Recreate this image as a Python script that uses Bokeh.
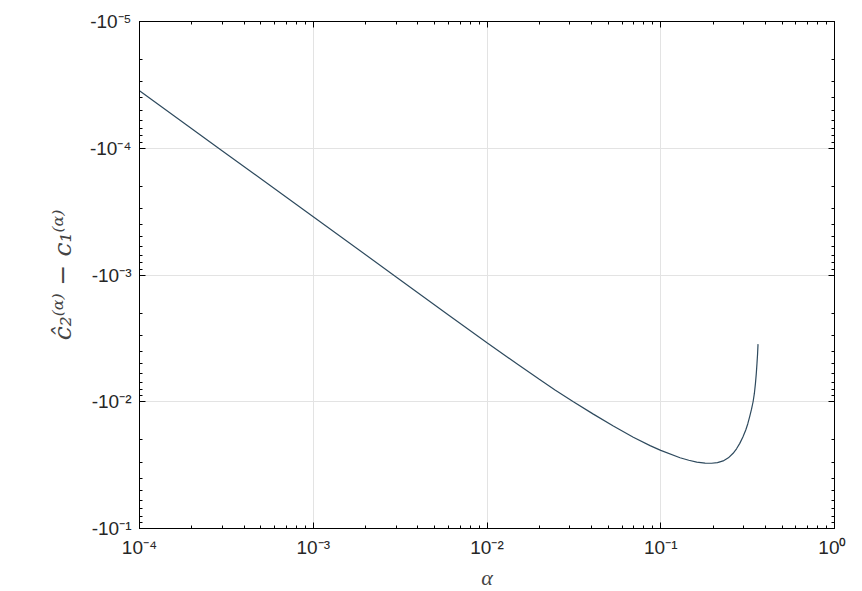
import numpy as np
from bokeh.plotting import figure
from bokeh.models import Range1d, LogAxis, FixedTicker
from bokeh.embed import file_html
from bokeh.resources import INLINE

# data: alpha and magnitude of (c2_hat - c1) (the values are negative)
alpha = [1e-4, 3e-4, 1e-3, 3e-3, 6e-3, 1e-2, 0.015, 0.02, 0.02463, 0.03141, 0.04093,
         0.05333, 0.0695, 0.0868, 0.1, 0.1291, 0.145, 0.1612, 0.18, 0.196, 0.212,
         0.2286, 0.245, 0.2609, 0.273, 0.285, 0.297, 0.3085, 0.317, 0.325, 0.333,
         0.340, 0.3458, 0.3508, 0.3547, 0.358, 0.3608, 0.363]
neg_diff = [3.52e-5, 1.05e-4, 3.47e-4, 1.035e-3, 2.07e-3, 3.43e-3, 5.06e-3, 6.65e-3, 8.09e-3, 0.0100, 0.01252,
            0.01555, 0.01907, 0.02218, 0.02421, 0.02765, 0.02896, 0.0299, 0.0305, 0.03057, 0.0302,
            0.0293, 0.0277, 0.0255, 0.0235, 0.0213, 0.0190, 0.0167, 0.0149, 0.0131, 0.01145,
            0.0100, 0.0086, 0.00716, 0.0060, 0.00498, 0.0042, 0.00351]

x_ticks = [1e-4, 1e-3, 1e-2, 1e-1, 1e0]
x_tick_labels = ["10\u207b\u2074", "10\u207b\u00b3", "10\u207b\u00b2", "10\u207b\u00b9", "10\u2070"]
y_ticks = [1e-5, 1e-4, 1e-3, 1e-2, 1e-1]
y_tick_labels = ["-10\u207b\u2075", "-10\u207b\u2074", "-10\u207b\u00b3", "-10\u207b\u00b2", "-10\u207b\u00b9"]


def minors(decades):
    out = []
    for d in decades[:-1]:
        out += [k * d for k in range(2, 10)]
    return out


p = figure(frame_width=695, frame_height=507, output_backend="svg", toolbar_location=None,
           x_axis_type="log", y_axis_type="log",
           x_range=Range1d(1e-4, 1.0), y_range=Range1d(1e-1, 1e-5),
           min_border_left=139, min_border_top=21, min_border_right=12, min_border_bottom=56,
           background_fill_color="white", border_fill_color="white")
p.outline_line_color = "black"
p.outline_line_width = 1

p.line(alpha, neg_diff, line_color="#2e4a5e", line_width=1.2)


def style(ax, ticker, labels, ticks):
    ax.ticker = ticker
    ax.axis_line_color = "black"
    ax.major_tick_line_color = "black"
    ax.minor_tick_line_color = "black"
    ax.major_tick_in = 6
    ax.major_tick_out = 0
    ax.minor_tick_in = 3
    ax.minor_tick_out = 0
    ax.major_label_text_font = "Liberation Sans"
    ax.major_label_text_font_size = "19px"
    ax.major_label_text_color = "#262626"
    ax.major_label_overrides = {t: l for t, l in zip(ticks, labels)}


xa = p.xaxis[0]
style(xa, FixedTicker(ticks=x_ticks, minor_ticks=minors(x_ticks)), x_tick_labels, x_ticks)
xa.major_label_standoff = 8
xa.axis_label = "\u03b1"
xa.axis_label_text_font = "Liberation Serif"
xa.axis_label_text_font_style = "italic"
xa.axis_label_text_font_size = "22px"
xa.axis_label_standoff = 4

ya = p.yaxis[0]
style(ya, FixedTicker(ticks=y_ticks, minor_ticks=minors(y_ticks)), y_tick_labels, y_ticks)
ya.major_label_standoff = 8
ya.axis_label = "\u0109\u2082\u207d\u1d45\u207e \u2212 c\u2081\u207d\u1d45\u207e"
ya.axis_label_text_font = "DejaVu Serif"
ya.axis_label_text_font_style = "italic"
ya.axis_label_text_font_size = "25px"
ya.axis_label_standoff = 10

top = LogAxis()
style(top, FixedTicker(ticks=x_ticks, minor_ticks=minors(x_ticks)), [""] * len(x_ticks), x_ticks)
p.add_layout(top, "above")
right = LogAxis()
style(right, FixedTicker(ticks=y_ticks, minor_ticks=minors(y_ticks)), [""] * len(y_ticks), y_ticks)
p.add_layout(right, "right")

p.xgrid.ticker = FixedTicker(ticks=x_ticks)
p.ygrid.ticker = FixedTicker(ticks=y_ticks)
p.xgrid.grid_line_color = "#e3e3e3"
p.ygrid.grid_line_color = "#e3e3e3"
p.xgrid.minor_grid_line_color = None
p.ygrid.minor_grid_line_color = None

open("out.html", "w").write(file_html(p, INLINE))
